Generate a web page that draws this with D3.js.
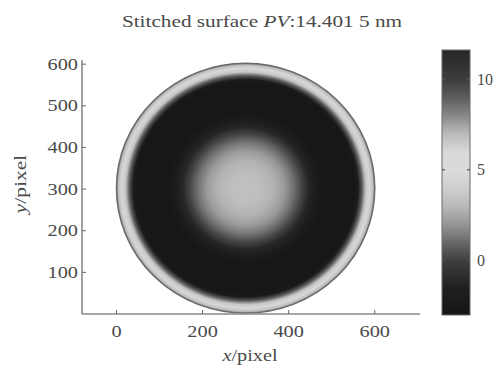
<!DOCTYPE html>
<html><head><meta charset="utf-8">
<script src="https://cdn.jsdelivr.net/npm/d3@7"></script>
<style>
html,body{margin:0;padding:0;background:#fff;}
svg text{font-family:"Liberation Serif","DejaVu Serif",serif;fill:#4a4a4a;}
</style></head>
<body><svg id="c" width="502" height="368"></svg>
<script>
// ---- data ----
const titleText = "Stitched surface ";
const xTicks = [0, 200, 400, 600];
const yTicks = [100, 200, 300, 400, 500, 600];
const cbTicks = [0, 5, 10];
const xDomain = [-80, 705];
const yDomain = [0, 610];
const cbDomain = [-3.0, 11.6];
// colormap: surface height (nm) -> gray level
const cmapValues = [-3, -1.5, 0, 1, 2, 3, 4, 5, 6, 7, 8, 9, 10, 11.6];
const cmapGrays  = [22, 32, 62, 105, 150, 185, 208, 218, 216, 185, 135, 92, 60, 38];
// aperture (pixel coordinates)
const apertureCenter = [300, 302];
const apertureRadius = 300;
// radial height profile (fraction of radius, height in nm)
const profileR = [0, 0.12, 0.22, 0.3, 0.37, 0.43, 0.49, 0.55, 0.61, 0.84, 0.87, 0.9, 0.93, 0.96, 0.985, 1.0];
const profileZ = [3.3, 3.2, 2.8, 2.1, 1.2, 0.2, -1.2, -2.3, -2.9, -2.9, -2.2, 0.6, 3.5, 4.8, 3.2, 1.5];

// ---- drawing ----
const svg = d3.select("#c");
const x = d3.scaleLinear().domain(xDomain).range([82, 420]);
const y = d3.scaleLinear().domain(yDomain).range([314, 60]);
const gray = d3.scaleLinear().domain(cmapValues)
  .range(cmapGrays.map(g => d3.rgb(g, g, g).toString())).clamp(true);
const SX = 1.27;

const defs = svg.append("defs");
const rg = defs.append("radialGradient").attr("id", "surf")
  .attr("cx", 0.5).attr("cy", 0.5).attr("r", 0.5);
rg.selectAll("stop").data(profileR).join("stop")
  .attr("offset", d => d)
  .attr("stop-color", (d, i) => gray(profileZ[i]));

const cx = x(apertureCenter[0]), cy = y(apertureCenter[1]);
const rx = x(apertureCenter[0] + apertureRadius) - cx;
const ry = cy - y(apertureCenter[1] + apertureRadius);
svg.append("ellipse").attr("cx", cx).attr("cy", cy).attr("rx", rx).attr("ry", ry)
  .attr("fill", "url(#surf)").attr("stroke", "#6a6a6a").attr("stroke-width", 1.5);

// axes
const axisColor = "#8a8a8a";
const gx = svg.append("g").attr("transform", "translate(0,314)");
gx.append("line").attr("x1", 82).attr("x2", 420).attr("stroke", axisColor).attr("stroke-width", 1.6);
gx.selectAll("line.t").data(xTicks).join("line").attr("class", "t")
  .attr("x1", d => x(d)).attr("x2", d => x(d)).attr("y1", 0).attr("y2", -4)
  .attr("stroke", "#666").attr("stroke-width", 1);
gx.selectAll("text").data(xTicks).join("text")
  .attr("transform", d => `translate(${x(d)},23) scale(${SX},1)`).attr("text-anchor", "middle")
  .attr("font-size", 16).text(d => d);

const gy = svg.append("g").attr("transform", "translate(82,0)");
gy.append("line").attr("y1", 60).attr("y2", 314).attr("stroke", axisColor).attr("stroke-width", 1.6);
gy.selectAll("line.t").data(yTicks).join("line").attr("class", "t")
  .attr("y1", d => y(d)).attr("y2", d => y(d)).attr("x1", 0).attr("x2", 4)
  .attr("stroke", "#666").attr("stroke-width", 1);
gy.selectAll("text").data(yTicks).join("text")
  .attr("transform", d => `translate(-4,${y(d)}) scale(${SX},1)`).attr("dy", "0.35em").attr("text-anchor", "end")
  .attr("font-size", 16).text(d => d);

// title
const t = svg.append("text").attr("transform", `translate(262,27) scale(1.25,1)`)
  .attr("text-anchor", "middle").attr("font-size", 17);
t.append("tspan").text(titleText);
t.append("tspan").attr("font-style", "italic").text("PV");
t.append("tspan").text(":14.401 5 nm");

// axis labels
const xl = svg.append("text").attr("transform", `translate(250,361) scale(${SX},1)`)
  .attr("text-anchor", "middle").attr("font-size", 16);
xl.append("tspan").attr("font-style", "italic").text("x");
xl.append("tspan").text("/pixel");
const yl = svg.append("text").attr("transform", `translate(26,184) rotate(-90) scale(1.35,1)`)
  .attr("text-anchor", "middle").attr("font-size", 16);
yl.append("tspan").attr("font-style", "italic").text("y");
yl.append("tspan").text("/pixel");

// colorbar
const cbY = d3.scaleLinear().domain(cbDomain).range([315, 50]);
const lg = defs.append("linearGradient").attr("id", "cb")
  .attr("x1", 0).attr("y1", 1).attr("x2", 0).attr("y2", 0);
lg.selectAll("stop").data(cmapValues).join("stop")
  .attr("offset", d => (d - cbDomain[0]) / (cbDomain[1] - cbDomain[0]))
  .attr("stop-color", d => gray(d));
const cbx0 = 442, cbx1 = 470;
svg.append("rect").attr("x", cbx0).attr("y", cbY(cbDomain[1])).attr("width", cbx1 - cbx0)
  .attr("height", cbY(cbDomain[0]) - cbY(cbDomain[1]))
  .attr("fill", "url(#cb)").attr("stroke", "#6a6a6a").attr("stroke-width", 1);
const cbt = svg.append("g");
cbt.selectAll("line.l").data(cbTicks).join("line").attr("class", "l")
  .attr("x1", cbx0).attr("x2", cbx0 + 3).attr("y1", d => cbY(d)).attr("y2", d => cbY(d))
  .attr("stroke", "#555").attr("stroke-width", 1.2);
cbt.selectAll("line.r").data(cbTicks).join("line").attr("class", "r")
  .attr("x1", cbx1 - 3).attr("x2", cbx1).attr("y1", d => cbY(d)).attr("y2", d => cbY(d))
  .attr("stroke", "#555").attr("stroke-width", 1.2);
cbt.selectAll("text").data(cbTicks).join("text")
  .attr("x", 477).attr("y", d => cbY(d)).attr("dy", "0.35em").attr("font-size", 16).text(d => d);
</script></body></html>
